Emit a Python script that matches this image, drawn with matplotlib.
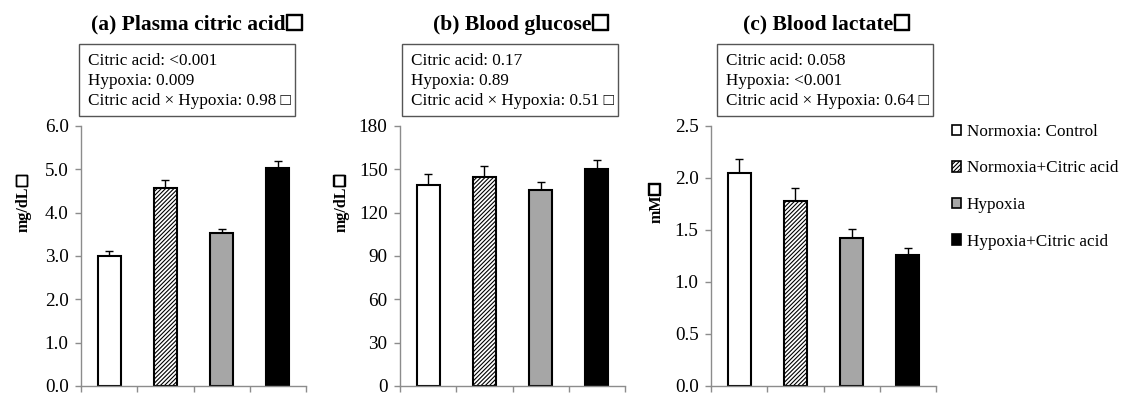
import numpy as np
import matplotlib.pyplot as plt
import matplotlib.patheffects as pe
from matplotlib.patches import Patch, Rectangle

plt.rcParams['font.family'] = ['Liberation Serif', 'DejaVu Sans']
plt.rcParams['hatch.linewidth'] = 0.8

groups = ['Normoxia: Control', 'Normoxia+Citric acid', 'Hypoxia', 'Hypoxia+Citric acid']

titles = ['(a) Plasma citric acid', '(b) Blood glucose', '(c) Blood lactate']
ylabels = ['mg/dL', 'mg/dL', 'mM']

citric_mean = [3.01, 4.57, 3.52, 5.02]
citric_err = [0.10, 0.18, 0.10, 0.18]
glucose_mean = [139.5, 144.8, 136.0, 150.3]
glucose_err = [7.0, 7.6, 5.4, 6.5]
lactate_mean = [2.05, 1.78, 1.42, 1.26]
lactate_err = [0.13, 0.12, 0.09, 0.07]

pvals_citric = ['<0.001', '0.009', '0.98']
pvals_glucose = ['0.17', '0.89', '0.51']
pvals_lactate = ['0.058', '<0.001', '0.64']

yticks = [np.arange(0, 6.01, 1.0), np.arange(0, 181, 30), np.arange(0, 2.51, 0.5)]
yfmt = ['{:.1f}', '{:.0f}', '{:.1f}']

means = [citric_mean, glucose_mean, lactate_mean]
errs = [citric_err, glucose_err, lactate_err]
pvals = [pvals_citric, pvals_glucose, pvals_lactate]

faces = ['white', 'white', '#a6a6a6', 'black']
hatches = ['', '////////', '', '']

fig = plt.figure(figsize=(11.27, 3.94), dpi=100)
lefts = [81, 400, 711]
box_x0 = [-0.01, 0.01, 0.027]
label_x = [-0.253, -0.259, -0.241]
title_x = [0.478, 0.5, 0.478]
thick = [pe.withStroke(linewidth=1.0, foreground='black')]

for k in range(3):
    ax = fig.add_axes([lefts[k] / 1127, 8 / 394, 225 / 1127, 260 / 394])
    x = np.arange(len(groups))
    m = np.array(means[k])
    e = np.array(errs[k])
    ax.errorbar(x, m, yerr=[np.zeros_like(e), e], fmt='none', ecolor='black',
                elinewidth=1, capsize=3, capthick=1, zorder=1)
    ax.bar(x, m, width=0.41, color=faces, edgecolor='black', linewidth=1.5,
           hatch=hatches, zorder=2)
    ax.set_xlim(-0.5, 3.5)
    ax.set_ylim(yticks[k][0], yticks[k][-1])
    ax.set_yticks(yticks[k])
    ax.set_yticklabels([yfmt[k].format(v) for v in yticks[k]], fontsize=13.8)
    ax.set_xticks(np.arange(-0.5, 3.6, 1.0))
    ax.set_xticklabels([])
    for s in ['top', 'right']:
        ax.spines[s].set_visible(False)
    for s in ['left', 'bottom']:
        ax.spines[s].set_color('#8c8c8c')
        ax.spines[s].set_linewidth(1)
    ax.tick_params(axis='both', direction='out', length=4, color='#8c8c8c', width=1)
    ax.tick_params(axis='y', pad=5)

    # y label with a bold box glyph after it
    yl = ax.text(label_x[k], 0.68, ylabels[k], transform=ax.transAxes, rotation=90,
                 ha='center', va='center', fontsize=11.5, fontweight='bold')
    ax.annotate('\u25a1', xy=(0.42, 1.0), xycoords=yl, ha='center', va='bottom',
                rotation=90, fontsize=14, fontweight='bold', path_effects=thick)

    tt = ax.text(title_x[k], 1.39, titles[k], transform=ax.transAxes, ha='center',
                 va='center', fontsize=15.5, fontweight='bold')
    ax.annotate('\u25a1', xy=(1.0, 0.24), xycoords=tt, ha='left', va='baseline',
                fontsize=19, fontweight='bold', path_effects=thick)

    ax.add_patch(Rectangle((box_x0[k], 1.04), 0.96, 0.276, transform=ax.transAxes,
                           facecolor='white', edgecolor='#555555', linewidth=1,
                           clip_on=False))
    lines = ['Citric acid: ' + pvals[k][0],
             'Hypoxia: ' + pvals[k][1],
             'Citric acid \u00d7 Hypoxia: ' + pvals[k][2] + ' \u25a1']
    for j, ln in enumerate(lines):
        ax.text(box_x0[k] + 0.04, 1.25 - j * 0.0766, ln, transform=ax.transAxes,
                ha='left', va='center', fontsize=12.3)

handles = [Patch(facecolor=faces[i], edgecolor='black', hatch=hatches[i], linewidth=1.2)
           for i in range(4)]
fig.legend(handles, groups, loc='upper left', bbox_to_anchor=(952 / 1127, 1 - 124 / 394),
           frameon=False, fontsize=12.3, handlelength=0.55, handleheight=0.55,
           handletextpad=0.3, labelspacing=1.2, borderpad=0, borderaxespad=0)

fig.savefig('out.png', dpi=100)
